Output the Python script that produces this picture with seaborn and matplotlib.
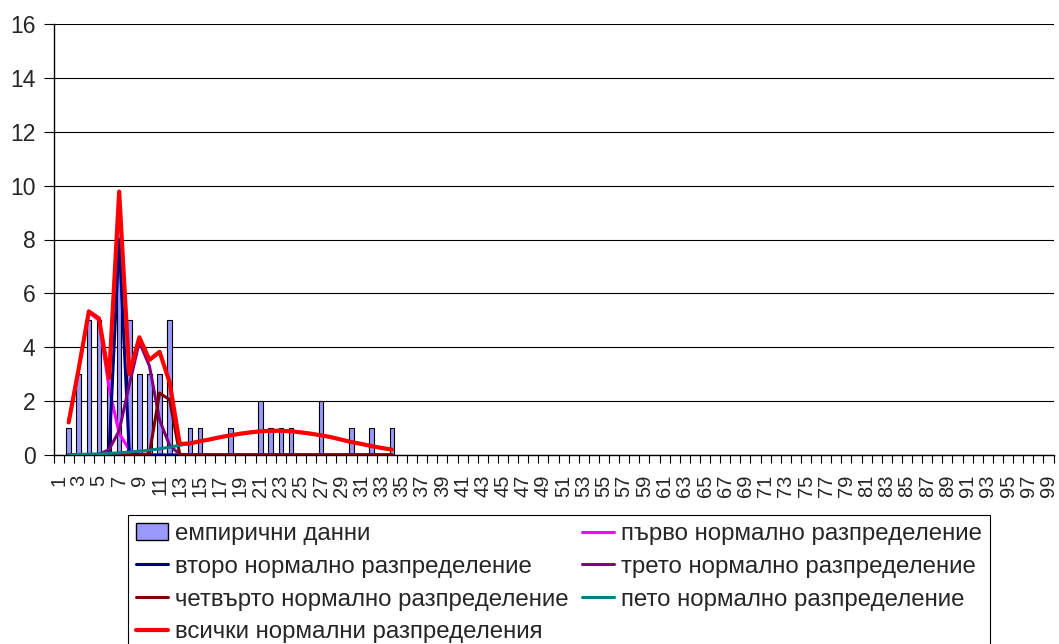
import numpy as np
import pandas as pd
import seaborn as sns
import matplotlib.pyplot as plt
from matplotlib.patches import Patch
from matplotlib.lines import Line2D

# category axis 1..99, values present for categories 2..34
CATEGORIES = list(range(1, 100))
X_DATA = list(range(2, 35))

EMPIRICAL = [1, 3, 5, 5, 3, 9, 5, 3, 3, 3, 5, 0, 1, 1, 0, 0, 1, 0, 0, 2, 1,
             1, 1, 0, 0, 2, 0, 0, 1, 0, 1, 0, 1]

FIRST = [1.2, 3.2, 5.3, 5.0, 2.5, 0.8, 0.2, 0.03] + [0] * 25
SECOND = [0, 0, 0, 0, 0.1, 8.0, 0.1] + [0] * 26
THIRD = [0, 0, 0, 0.03, 0.2, 0.9, 2.6, 4.2, 3.3, 1.3, 0.35, 0.03] + [0] * 21
FOURTH = [0] * 8 + [0.05, 2.3, 2.05, 0.02] + [0] * 21
FIFTH = [0.01, 0.02, 0.03, 0.04, 0.06, 0.08, 0.11, 0.14, 0.18, 0.23,
         0.29, 0.36, 0.43, 0.51, 0.58, 0.66, 0.73, 0.79, 0.84, 0.88,
         0.90, 0.90, 0.88, 0.84, 0.79, 0.73, 0.66, 0.57, 0.48, 0.41,
         0.33, 0.26, 0.20]
ALL = [1.21, 3.22, 5.33, 5.07, 2.86, 9.78, 3.01, 4.37, 3.53, 3.83, 2.69, 0.41,
       0.43, 0.51, 0.58, 0.66, 0.73, 0.79, 0.84, 0.88, 0.90, 0.90, 0.88, 0.84,
       0.79, 0.73, 0.66, 0.57, 0.48, 0.41, 0.33, 0.26, 0.20]

LABELS = [
    "емпирични данни",
    "първо нормално разпределение",
    "второ нормално разпределение",
    "трето нормално разпределение",
    "четвърто нормално разпределение",
    "пето нормално разпределение",
    "всички нормални разпределения",
]

BAR_COLOR = "#9999FF"
LINE_COLORS = ["#FF00FF", "#000080", "#800080", "#800000", "#008080", "#FF0000"]

sns.set_style("white")
plt.rcParams["font.family"] = ["Liberation Sans", "DejaVu Sans"]

fig, ax = plt.subplots(figsize=(10.59, 6.44), dpi=100)
fig.subplots_adjust(left=53.5 / 1059, right=1053.5 / 1059,
                    bottom=1 - 455 / 644, top=1 - 24 / 644)

bars = pd.DataFrame({"x": X_DATA, "y": EMPIRICAL})
sns.barplot(data=bars, x="x", y="y", native_scale=True, width=0.45,
            color=BAR_COLOR, saturation=1, edgecolor="black", linewidth=0.8,
            errorbar=None, ax=ax, zorder=2)

series = [FIRST, SECOND, THIRD, FOURTH, FIFTH, ALL]
for i, (vals, col) in enumerate(zip(series, LINE_COLORS)):
    lw = 3.0 if col == "#FF0000" else 2.2
    sns.lineplot(x=X_DATA, y=vals, color=col, linewidth=lw, ax=ax,
                 zorder=3 + i)

ax.set_xlim(0.5, 99.5)
ax.set_ylim(0, 16)
ax.set_yticks(range(0, 17, 2))
ax.set_xticks(CATEGORIES[::2])
ax.set_xticklabels([str(c) for c in CATEGORIES[::2]], rotation=90, fontsize=14.5)
ax.set_xticks(np.arange(0.5, 100, 1), minor=True)
ax.tick_params(axis="x", which="major", length=0, pad=14)
ax.tick_params(axis="x", which="minor", length=6, width=0.8, direction="out",
               color="black", bottom=True)
ax.tick_params(axis="y", length=7, width=0.8, direction="out", color="black",
               labelsize=16.5, pad=6, left=True)
ax.set_xlabel("")
ax.set_ylabel("")

ax.set_axisbelow(True)
ax.yaxis.grid(True, color="black", linewidth=0.8)
ax.xaxis.grid(False)
for s in ["top", "right"]:
    ax.spines[s].set_visible(False)
for s in ["left", "bottom"]:
    ax.spines[s].set_color("black")
    ax.spines[s].set_linewidth(1)

handles = {
    LABELS[0]: Patch(facecolor=BAR_COLOR, edgecolor="black", linewidth=1),
}
for lab, col in zip(LABELS[1:], LINE_COLORS):
    handles[lab] = Line2D([], [], color=col,
                          linewidth=3.0 if col == "#FF0000" else 2.2)

# row-major order of the original legend -> column-major for matplotlib
order = [LABELS[0], LABELS[2], LABELS[4], LABELS[6],
         LABELS[1], LABELS[3], LABELS[5]]
leg = fig.legend([handles[k] for k in order], order, loc="upper left",
                 bbox_to_anchor=(128 / 1059, 1 - 515 / 644), ncol=2,
                 frameon=True, fancybox=False, framealpha=1, edgecolor="black",
                 fontsize=17.3, handlelength=1.33, handletextpad=0.29,
                 columnspacing=0.55, labelspacing=0.45, borderpad=0.33,
                 borderaxespad=0)
leg.get_frame().set_linewidth(0.8)

fig.savefig("out.png", dpi=100)
